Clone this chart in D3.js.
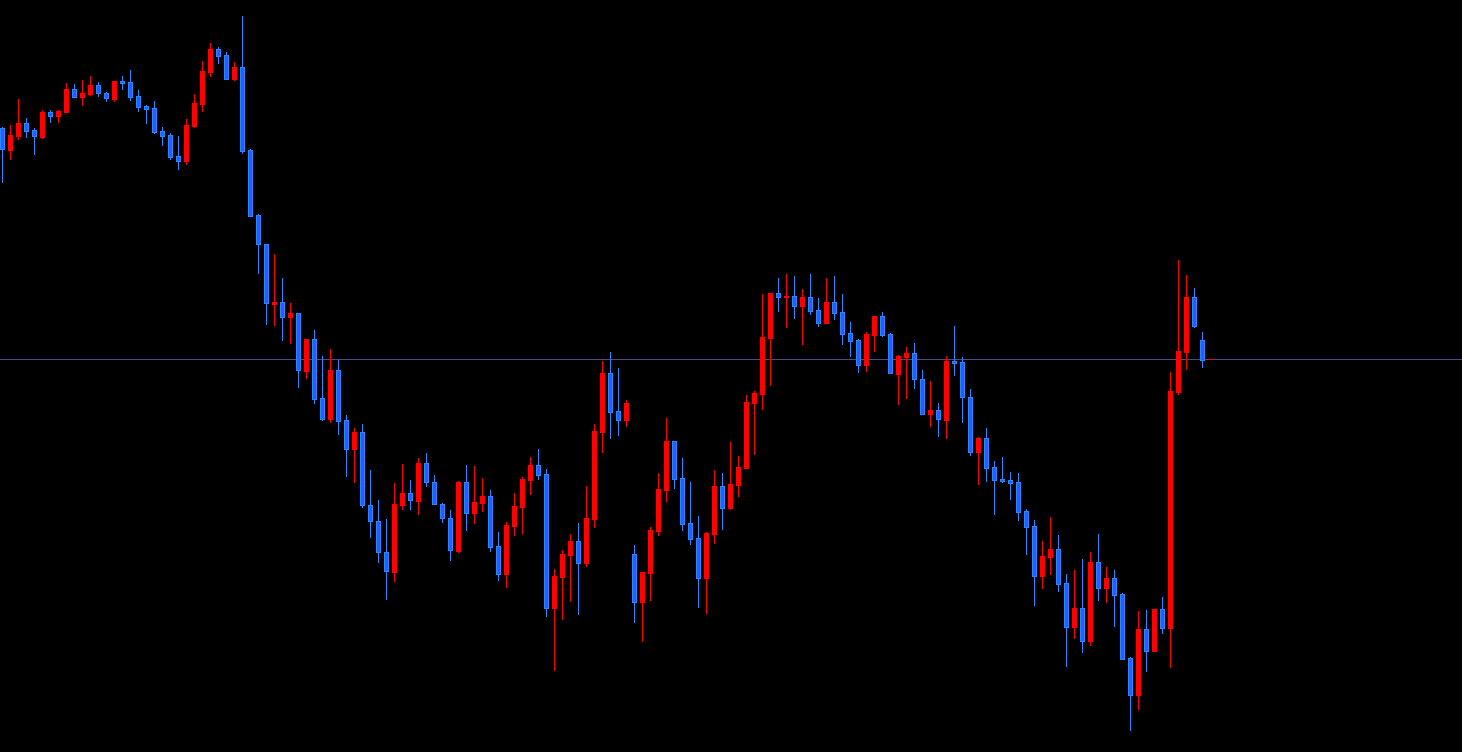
<!DOCTYPE html>
<html>
<head>
<meta charset="utf-8">
<script src="https://cdn.jsdelivr.net/npm/d3@7"></script>
<style>
html,body{margin:0;padding:0;background:#000;overflow:hidden;}
svg{display:block;}
</style>
</head>
<body>
<svg id="chart" width="1462" height="752"></svg>
<script>
// Chart units: inverted price axis (smaller value = higher on screen).
const openVals = [128,150,136,123,130,137,112,116,112,89,97,94,85,93,99,81,82,96,106,108,131,135,156,161,126,104,72,49,55,79,67,150,215,244,303.5,302,317,313,371,339,398,419,370,420,449,432,505,521,552,572,505,493,501,463,482,504,518,551,482,513,503,496,546,574,526,507,480,465,474,608,577,555,541,563,519,432,373,411,420,554,602,573,531,490,441,478,523,538,578,534,486,508,485,468,403,394,338,293,297,296,306,297,310,323,302,312,333,340,365,335,316,334,374,357,353,379,414,410,420,361,362,397,452,438,467,479,480,482,511,526,576,557,549,583,627,608,641,562,588,578,594,658,695,629,651,609,628,392,352,297,340];
const highVals = [127,125,99,118,128,110,110,110,83,84,80,76,82,92,81,76,70,90,105,101,127,133,136,119,94,61,43,47,52,62,16,149,214,244,254,278,303,313,339,330,356,349,360,415,428,424,470,500,519,483,464,480,458,453,475,503,510,481,465,466,478,490,532,522,493,477,457,449,469,569,550,534,523,486,424,361,352,368,400,545,572,527,473,418,441,458,482,516,532,470,473,442,456,395,391,294,293,278,274,276,289,274,298,278,276,294,322,339,332,316,312,333,355,347,343,370,381,403,356,326,357,389,437,428,461,457,472,473,509,520,541,517,535,574,570,559,552,534,567,570,593,657,611,610,609,597,372,260,275,288,332];
const lowVals = [182,159,139,137,154,138,122,122,112,97,105,95,96,101,101,89,100,111,123,133,145,159,169,164,127,111,76,63,79,80,153,216,273,324,325,340,343,387,378,403,420,422,434,476,482,507,537,562,599,581,509,509,514,486,504,522,560,552,530,523,511,551,580,587,535,533,494,479,616,670,619,601,614,566,527,452,438,435,426,622,641,600,535,501,488,530,544,607,613,543,529,509,496,468,454,409,385,311,327,318,344,314,326,323,319,344,356,372,371,351,336,373,404,398,388,414,426,436,438,375,422,455,484,481,514,482,499,520,554,605,588,574,591,666,638,652,645,600,602,626,659,730,709,671,651,633,667,394,369,327,367];
const closeVals = [149,135,123,131,136,112,116,111,89,97,93,85,93,98,81,83,97,107,109,132,136,157,161,125,103,71,49,56,79,67,151,216,244,303,302,317,313,370,339,399,419,370,421,449,432,505,521,552,571,504,493,500,463,482,504,518,550,482,513,502,496,547,574,525,506,479,465,475,608,576,554,541,563,518,431,373,412,420,403,602,572,530,489,441,479,524,539,578,533,486,508,484,467,402,393,337,293,297,296,306,297,311,323,302,313,334,341,365,334,316,335,373,356,353,379,414,410,419,361,362.5,397,452,438,468,480,481,483,512,527,576,556,549,584,627,608,641,562,588,578,595,659,695,629,651,609,628,391,351,297,326,360];
const bidLevel = [359];

const W = 1462, H = 752;
const svg = d3.select('#chart');
svg.append('rect').attr('width', W).attr('height', H).attr('fill', '#000');

const n = openVals.length;
const idx = d3.range(n);
const x = d3.scaleLinear().domain([0, n - 1]).range([2.5, 2.5 + 8 * (n - 1)]);
const y = d3.scaleLinear().domain([0, 752]).range([0, 752]);

const UP = '#ff0000';
const DOWN_FILL = '#3a52ff';
const DOWN_EDGE = '#1e8cff';
const bodyW = 5;

// bid line
const by = Math.round(y(bidLevel[0])) + 0.5;
svg.append('line').attr('x1', 0).attr('x2', W).attr('y1', by).attr('y2', by)
  .attr('stroke', '#4e4788').attr('stroke-width', 1);

const g = svg.append('g');
idx.forEach(i => {
  const o = openVals[i], h = highVals[i], l = lowVals[i], c = closeVals[i];
  const up = c < o; // higher on screen
  const cx = x(i);
  const wx = Math.floor(cx) + 0.5;
  g.append('line')
    .attr('x1', wx).attr('x2', wx)
    .attr('y1', Math.round(y(h))).attr('y2', Math.round(y(l)) + 1)
    .attr('stroke', up ? UP : DOWN_EDGE).attr('stroke-width', 1);
  const top = Math.round(y(Math.min(o, c)));
  const bot = Math.round(y(Math.max(o, c)));
  const bh = Math.max(1, bot - top + 1);
  const bx = Math.floor(cx) - 2;
  if (up) {
    g.append('rect').attr('x', bx).attr('y', top).attr('width', bodyW).attr('height', bh)
      .attr('fill', UP);
  } else {
    if (bh >= 3) {
      g.append('rect').attr('x', bx + 0.5).attr('y', top + 0.5).attr('width', bodyW - 1).attr('height', bh - 1)
        .attr('fill', DOWN_FILL).attr('stroke', DOWN_EDGE).attr('stroke-width', 1);
    } else {
      g.append('rect').attr('x', bx).attr('y', top).attr('width', bodyW).attr('height', bh)
        .attr('fill', DOWN_EDGE);
    }
  }
});

// small red marker right of the last bar on the bid line
const lastX = x(n - 1);
svg.append('line').attr('x1', Math.floor(lastX) + 6).attr('x2', Math.floor(lastX) + 11)
  .attr('y1', by).attr('y2', by).attr('stroke', UP).attr('stroke-width', 1);
</script>
</body>
</html>
